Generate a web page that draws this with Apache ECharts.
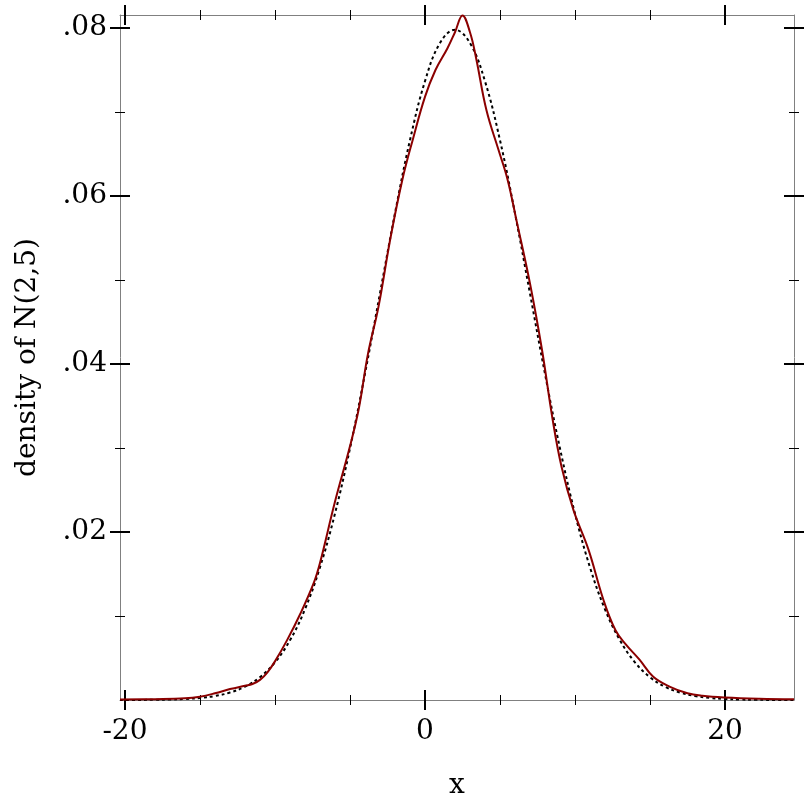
<!DOCTYPE html>
<html>
<head>
<meta charset="utf-8">
<script src="https://cdn.jsdelivr.net/npm/echarts@6/dist/echarts.min.js"></script>
<style>
html,body{margin:0;padding:0;background:#fff;}
#chart{width:812px;height:812px;}
</style>
</head>
<body>
<div id="chart"></div>
<script>
// Axis ranges and ticks
const xMin = -20.33, xMax = 24.6;
const yMin = 0, yMax = 0.08155;
const xMajorTicks = [-20, 0, 20];
const xMinorTicks = [-15, -10, -5, 5, 10, 15];
const yMajorTicks = [0.02, 0.04, 0.06, 0.08];
const yMinorTicks = [0.01, 0.03, 0.05, 0.07];

// Dashed reference curve: density of N(2,5)
const refX = [-20.33, -19, -18, -17, -16, -15, -14, -13, -12, -11, -10, -9, -8, -7, -6, -5, -4, -3, -2, -1, 0, 1, 2, 3, 4, 5, 6, 7, 8, 9, 10, 11, 12, 13, 14, 15, 16, 17, 18, 19, 20, 21, 22, 23, 24.6];
const refY = [0.000004, 0.000011, 0.000027, 0.000058, 0.000122, 0.000245, 0.000477, 0.000887, 0.00158, 0.00272, 0.00448, 0.00710, 0.0108, 0.01579, 0.02219, 0.02995, 0.03884, 0.04840, 0.05794, 0.06665, 0.07366, 0.07821, 0.07979, 0.07821, 0.07366, 0.06665, 0.05794, 0.04840, 0.03884, 0.02995, 0.02219, 0.01579, 0.0108, 0.00710, 0.00448, 0.00272, 0.00158, 0.000887, 0.000477, 0.000245, 0.000122, 0.000058, 0.000027, 0.000011, 0.000003];

// Solid red curve: estimated sample density
const kdeX = [-20.33, -18, -16, -15, -14, -13, -12, -11.5, -11, -10.5, -10, -9.2, -8.3, -7.4, -7, -6, -5, -4.4, -3.8, -3.1, -2.3, -1.5, -0.8, 0, 0.7, 1.5, 2.0, 2.5, 3.0, 3.4, 4.1, 4.9, 5.5, 6.1, 7.0, 7.8, 8.5, 9.1, 9.9, 10.9, 11.9, 12.7, 13.4, 14.3, 15.2, 16.3, 17.5, 18.5, 20, 22.3, 24.6];
const kdeY = [0.00005, 0.0001, 0.0002, 0.0004, 0.0008, 0.0013, 0.0017, 0.0019, 0.0024, 0.0033, 0.0046, 0.0071, 0.0103, 0.0140, 0.0163, 0.0236, 0.0302, 0.0348, 0.0412, 0.0468, 0.0550, 0.0620, 0.0668, 0.0718, 0.0750, 0.0776, 0.0795, 0.0815, 0.0795, 0.0765, 0.0702, 0.0655, 0.0620, 0.0571, 0.0496, 0.0417, 0.0335, 0.0278, 0.0226, 0.0179, 0.0119, 0.0083, 0.0066, 0.0048, 0.0028, 0.0016, 0.0008, 0.0005, 0.0003, 0.00015, 0.00008];

const xTitle = 'x';
const yTitle = 'density of N(2,5)';

const FONT = 'DejaVu Serif';
const FS = 28;
const AXIS_GREY = '#808080';

function fmtY(v) { return v.toFixed(2).replace(/^0/, ''); }

function mkAxis(kind, pos, ticks, len, inside, width, opts) {
  const a = {
    type: 'value', position: pos,
    min: kind === 'x' ? xMin : yMin,
    max: kind === 'x' ? xMax : yMax,
    splitLine: { show: false },
    axisLine: { show: false, onZero: false },
    axisLabel: { show: false },
    axisTick: { show: true, inside: inside, length: len, customValues: ticks,
      lineStyle: { color: '#000', width: width } }
  };
  return Object.assign(a, opts || {});
}

const greyLine = { show: true, onZero: false, lineStyle: { color: AXIS_GREY, width: 1 } };

const xAxes = [
  mkAxis('x', 'bottom', xMajorTicks, 10, false, 2, {
    axisLine: greyLine,
    axisLabel: { show: true, customValues: xMajorTicks, margin: 18,
      fontFamily: FONT, fontSize: FS, color: '#000' },
    name: xTitle, nameLocation: 'middle', nameGap: 72,
    nameTextStyle: { fontFamily: FONT, fontSize: FS, color: '#000' }
  }),
  mkAxis('x', 'bottom', xMajorTicks, 10, true, 2),
  mkAxis('x', 'bottom', xMinorTicks, 5, false, 1),
  mkAxis('x', 'bottom', xMinorTicks, 5, true, 1),
  mkAxis('x', 'top', xMajorTicks, 10, false, 2, { axisLine: greyLine }),
  mkAxis('x', 'top', xMajorTicks, 10, true, 2),
  mkAxis('x', 'top', xMinorTicks, 5, false, 1),
  mkAxis('x', 'top', xMinorTicks, 5, true, 1)
];

const yAxes = [
  mkAxis('y', 'left', yMajorTicks, 10, false, 2, {
    axisLine: greyLine,
    axisLabel: { show: true, customValues: yMajorTicks, margin: 13,
      padding: [6, 0, 0, 0],
      fontFamily: FONT, fontSize: FS, color: '#000', formatter: fmtY },
    name: yTitle, nameLocation: 'middle', nameGap: 78, nameRotate: 90,
    nameTextStyle: { fontFamily: FONT, fontSize: FS, color: '#000' }
  }),
  mkAxis('y', 'left', yMajorTicks, 10, true, 2),
  mkAxis('y', 'left', yMinorTicks, 5, false, 1),
  mkAxis('y', 'left', yMinorTicks, 5, true, 1),
  mkAxis('y', 'right', yMajorTicks, 10, false, 2, { axisLine: greyLine }),
  mkAxis('y', 'right', yMajorTicks, 10, true, 2),
  mkAxis('y', 'right', yMinorTicks, 5, false, 1),
  mkAxis('y', 'right', yMinorTicks, 5, true, 1)
];

const chart = echarts.init(document.getElementById('chart'), null, { renderer: 'canvas' });
chart.setOption({
  animation: false,
  backgroundColor: '#fff',
  grid: { left: 120, top: 15, right: 18, bottom: 112, containLabel: false },
  xAxis: xAxes,
  yAxis: yAxes,
  series: [
    {
      type: 'line', xAxisIndex: 0, yAxisIndex: 0,
      data: refX.map((x, i) => [x, refY[i]]),
      smooth: 0.4, symbol: 'none', clip: false,
      lineStyle: { color: '#000', width: 2, type: [3, 3] }
    },
    {
      type: 'line', xAxisIndex: 0, yAxisIndex: 0,
      data: kdeX.map((x, i) => [x, kdeY[i]]),
      smooth: 0.4, symbol: 'none', clip: false,
      lineStyle: { color: '#8b0000', width: 2 }
    }
  ]
});
</script>
</body>
</html>
